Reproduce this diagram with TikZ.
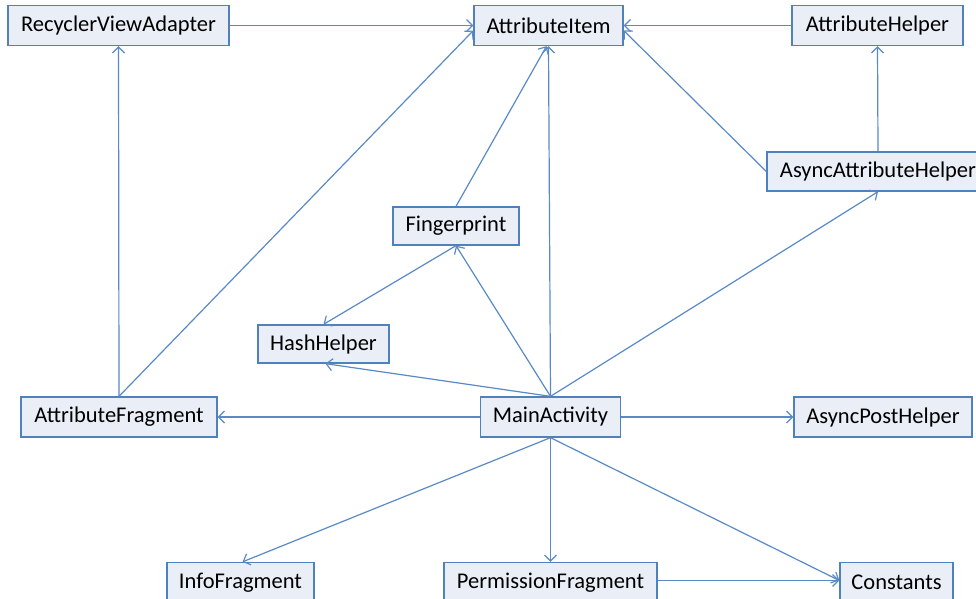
\documentclass[tikz,border=0pt]{standalone}
\usepackage{fontspec}
\setmainfont{Carlito}
\usetikzlibrary{arrows.meta}
\definecolor{boxline}{HTML}{4F81BD}
\definecolor{boxfill}{HTML}{EAEFF7}
\definecolor{conn}{HTML}{5A8AC6}
\tikzset{
  cls/.style={draw=boxline, fill=boxfill, line width=1.3pt, inner sep=0pt,
    minimum height=40pt, font=\fontsize{22.5}{26}\selectfont, text=black},
  dep/.style={draw=conn, line width=1.2pt, -{Straight Barb[length=6pt,width=12pt,line width=1.2pt]}}
}
\begin{document}
\begin{tikzpicture}[x=1pt,y=-1pt]
\useasboundingbox (0,0) rectangle (976,598);
\clip (0,0) rectangle (976,598);
\fill[white] (0,0) rectangle (976,598);
% nodes
\node[cls, minimum width=221pt] (rva) at (118.5,25.5) {RecyclerViewAdapter};
\node[cls, minimum width=149pt] (ai) at (548.5,25.5) {AttributeItem};
\node[cls, minimum width=171pt] (ah) at (877.5,25.5) {AttributeHelper};
\node[cls, minimum width=222pt, minimum height=39pt] (aah) at (878,171.5) {AsyncAttributeHelper};
\node[cls, minimum width=126pt, minimum height=38pt] (fp) at (456,226) {Fingerprint};
\node[cls, minimum width=131pt, minimum height=38pt] (hh) at (323.5,344) {HashHelper};
\node[cls, minimum width=196pt] (af) at (119,417) {AttributeFragment};
\node[cls, minimum width=140pt] (ma) at (550.5,417) {MainActivity};
\node[cls, minimum width=178pt] (aph) at (883,417) {AsyncPostHelper};
\node[cls, minimum width=147pt] (inf) at (240.5,582.5) {InfoFragment};
\node[cls, minimum width=213pt] (pf) at (550.5,582.5) {PermissionFragment};
\node[cls, minimum width=113pt] (con) at (896.5,582.5) {Constants};
% connectors
\draw[dep] (rva.east) -- (ai.west);
\draw[dep] (ah.west) -- (ai.east);
\draw[dep] (af.north) -- (rva.south);
\draw[dep] (af.north) -- ([yshift=-5pt]ai.west);
\draw[dep] (fp.north) -- ([xshift=-2pt]ai.south);
\draw[dep] (ma.north) -- (ai.south);
\draw[dep] (aah.west) -- ([yshift=-5pt]ai.east);
\draw[dep] (aah.north) -- (ah.south);
\draw[dep] (fp.south) -- (hh.north);
\draw[dep] (ma.north) -- ([xshift=2pt]hh.south);
\draw[dep] (ma.north) -- (fp.south);
\draw[dep] (ma.north) -- (aah.south);
\draw[dep] (ma.west) -- (af.east);
\draw[dep] (ma.east) -- (aph.west);
\draw[dep] (ma.south) -- ([xshift=2pt]inf.north);
\draw[dep] (ma.south) -- (pf.north);
\draw[dep] (ma.south) -- ([yshift=2pt]con.west);
\draw[dep] ([yshift=2pt]pf.east) -- ([yshift=2pt]con.west);
\end{tikzpicture}
\end{document}
